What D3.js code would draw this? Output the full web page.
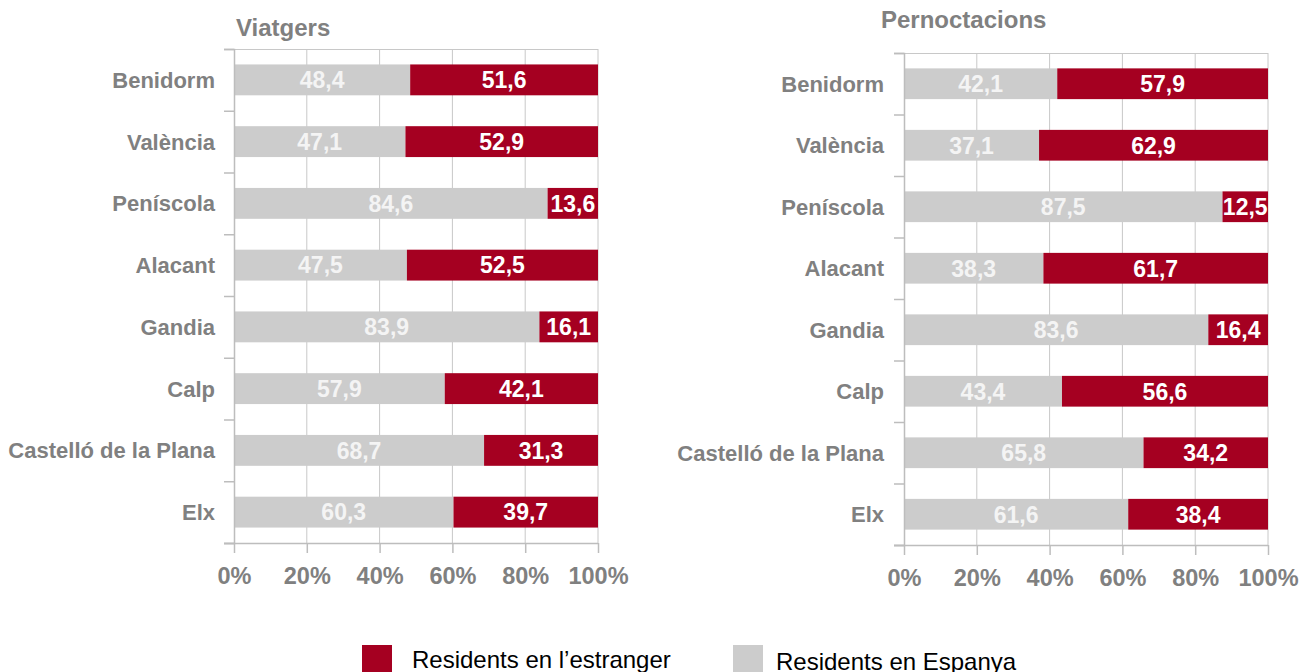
<!DOCTYPE html>
<html>
<head>
<meta charset="utf-8">
<script src="https://cdn.jsdelivr.net/npm/d3@7"></script>
<style>
  body { margin: 0; background: #fff; }
  svg { display: block; font-family: "Liberation Sans", Arial, sans-serif; }
</style>
</head>
<body>
<svg id="chart" width="1301" height="672"></svg>
<script>
const categories = ['Benidorm', 'València', 'Peníscola', 'Alacant', 'Gandia', 'Calp', 'Castelló de la Plana', 'Elx']
const viatgersEspanya = [48.4, 47.1, 84.6, 47.5, 83.9, 57.9, 68.7, 60.3]
const viatgersEstranger = [51.6, 52.9, 13.6, 52.5, 16.1, 42.1, 31.3, 39.7]
const pernoctEspanya = [42.1, 37.1, 87.5, 38.3, 83.6, 43.4, 65.8, 61.6]
const pernoctEstranger = [57.9, 62.9, 12.5, 61.7, 16.4, 56.6, 34.2, 38.4]
const xTicks = [0, 0.2, 0.4, 0.6, 0.8, 1]
const seriesNames = ['Residents en l\u2019estranger', 'Residents en Espanya']

const red = '#a50021',
      grey = '#cccccc',
      textGrey = '#808080',
      gridColor = '#c8c8c8',
      axisColor = '#bdbdbd'

const svg = d3.select('#chart')
const fmt = v => d3.format('.1f')(v).replace('.', ',')

function drawPanel(title, esp, est, box) {
  const rows = categories.map((c, i) => ({cat: c, esp: esp[i], est: est[i]}))
  const stacked = d3.stack().keys(['esp', 'est']).offset(d3.stackOffsetExpand)(rows)

  const x = d3.scaleLinear().domain([0, 1]).range([box.left, box.right])
  const y = d3.scaleBand().domain(categories).range([box.top, box.bottom]).paddingInner(0.5).paddingOuter(0.25)

  const g = svg.append('g')

  // title
  g.append('text')
    .attr('x', box.titleX).attr('y', box.titleY)
    .attr('fill', textGrey).attr('font-weight', 'bold').attr('font-size', 24)
    .text(title)

  // grid
  g.append('g').selectAll('line').data(xTicks.slice(1)).join('line')
    .attr('x1', d => x(d)).attr('x2', d => x(d))
    .attr('y1', box.top).attr('y2', box.bottom)
    .attr('stroke', gridColor)
  g.append('line')
    .attr('x1', box.left - 10).attr('x2', box.right)
    .attr('y1', box.top + 0.5).attr('y2', box.top + 0.5)
    .attr('stroke', gridColor)

  // bars
  const colors = {esp: grey, est: red}
  stacked.forEach(s => {
    g.append('g').selectAll('rect').data(s).join('rect')
      .attr('x', d => x(d[0]))
      .attr('width', d => x(d[1]) - x(d[0]))
      .attr('y', d => y(d.data.cat))
      .attr('height', y.bandwidth())
      .attr('fill', colors[s.key])

    g.append('g').selectAll('text').data(s).join('text')
      .attr('x', d => (x(d[0]) + x(d[1])) / 2)
      .attr('y', d => y(d.data.cat) + y.bandwidth() / 2)
      .attr('dy', '0.36em')
      .attr('text-anchor', 'middle')
      .attr('font-weight', 'bold').attr('font-size', 23)
      .attr('fill', s.key === 'esp' ? '#f4f4f4' : '#ffffff')
      .text(d => fmt(d.data[s.key]))
  })

  // left axis, ticks sit between categories
  const yAxis = d3.scaleLinear().domain([0, categories.length]).range([box.top, box.bottom])
  g.append('g')
    .attr('transform', `translate(${box.left},0)`)
    .call(d3.axisLeft(yAxis).tickValues(d3.range(categories.length + 1)).tickSize(10).tickFormat(''))
    .call(a => a.select('.domain').attr('stroke', axisColor).attr('stroke-width', 1.5))
    .call(a => a.selectAll('.tick line').attr('stroke', axisColor).attr('stroke-width', 1.5))

  g.append('g').selectAll('text').data(categories).join('text')
    .attr('x', box.labelX)
    .attr('y', d => y(d) + y.bandwidth() / 2)
    .attr('dy', '0.36em')
    .attr('text-anchor', 'end')
    .attr('fill', textGrey).attr('font-weight', 'bold').attr('font-size', 22)
    .text(d => d)

  // bottom axis
  g.append('g')
    .attr('transform', `translate(0,${box.bottom})`)
    .call(d3.axisBottom(x).tickValues(xTicks).tickSize(10).tickSizeOuter(0).tickFormat(d3.format('.0%')).tickPadding(14))
    .call(a => a.select('.domain').attr('stroke', axisColor).attr('stroke-width', 1.5)
      .attr('d', `M${box.left - 10},0.5H${box.right}`))
    .call(a => a.selectAll('.tick line').attr('stroke', axisColor).attr('stroke-width', 1.5))
    .call(a => a.selectAll('.tick text')
      .attr('fill', textGrey).attr('font-weight', 'bold').attr('font-size', 23.5)
      .attr('font-family', '"Liberation Sans", Arial, sans-serif'))
}

drawPanel('Viatgers', viatgersEspanya, viatgersEstranger,
  {left: 234, right: 598, top: 49, bottom: 543, labelX: 215, titleX: 236, titleY: 36})
drawPanel('Pernoctacions', pernoctEspanya, pernoctEstranger,
  {left: 904, right: 1268, top: 53, bottom: 545, labelX: 884, titleX: 881, titleY: 28})

// legend
const legend = svg.append('g')
const legendItems = [
  {name: seriesNames[0], color: red, bx: 362, tx: 412, ty: 668},
  {name: seriesNames[1], color: grey, bx: 733, tx: 776, ty: 670}
]
legend.selectAll('rect').data(legendItems).join('rect')
  .attr('x', d => d.bx).attr('y', 645)
  .attr('width', 30).attr('height', 30)
  .attr('fill', d => d.color)
legend.selectAll('text').data(legendItems).join('text')
  .attr('x', d => d.tx).attr('y', d => d.ty)
  .attr('font-size', 24).attr('fill', '#000')
  .text(d => d.name)
</script>
</body>
</html>
